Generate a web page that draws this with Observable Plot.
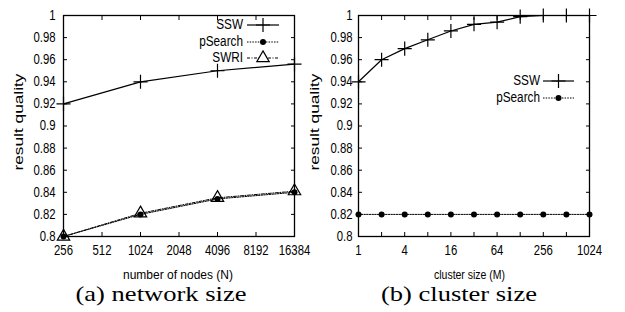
<!DOCTYPE html>
<html>
<head>
<meta charset="utf-8">
<script src="https://cdn.jsdelivr.net/npm/d3@7"></script>
<script src="https://cdn.jsdelivr.net/npm/@observablehq/plot@0.6"></script>
<style>
  html, body { margin: 0; padding: 0; background: #fff; }
  #wrap { position: relative; width: 625px; height: 312px; overflow: hidden; background: #fff; }
  #wrap > * { position: absolute; top: 0; }
</style>
</head>
<body>
<div id="wrap"></div>
<script>
// ---- data: panel (a) network size ----
const nodes = [256, 1024, 4096, 16384];
const sswA = [0.92, 0.94, 0.95, 0.956];
const psearchA = [0.80, 0.82, 0.834, 0.84];
const swriA = [0.80, 0.821, 0.835, 0.841];
const xTicksA = [256, 512, 1024, 2048, 4096, 8192, 16384];

// ---- data: panel (b) cluster size ----
const cluster = [1, 2, 4, 8, 16, 32, 64, 128, 256, 512, 1024];
const sswB = [0.94, 0.96, 0.97, 0.978, 0.986, 0.992, 0.994, 0.999, 1.0, 1.0, 1.0];
const psearchB = [0.82, 0.82, 0.82, 0.82, 0.82, 0.82, 0.82, 0.82, 0.82, 0.82, 0.82];
const xTicksB = [1, 2, 4, 8, 16, 32, 64, 128, 256, 512, 1024];
const xLabelsB = [1, 4, 16, 64, 256, 1024];

const yTicks = [0.8, 0.82, 0.84, 0.86, 0.88, 0.9, 0.92, 0.94, 0.96, 0.98, 1];

const yLabel = "result quality";
const xLabelA = "number of nodes (N)";
const xLabelB = "cluster size (M)";
const captionA = "(a) network size";
const captionB = "(b) cluster size";

const FONT = '"Liberation Sans", Arial, sans-serif';
const SERIF = '"Liberation Serif", "Times New Roman", serif';

const fmtY = d => String(+d.toFixed(2));

function table(xs, ys) { return xs.map((x, i) => ({x, y: ys[i]})); }

function frameMarks(xTicks, xLabels, padY) {
  return [
    Plot.axisX(xTicks, {anchor: "bottom", tickSize: -4, tickFormat: () => "", label: null, strokeWidth: 1}),
    Plot.axisX(xTicks, {anchor: "top", tickSize: -4, tickFormat: () => "", label: null, strokeWidth: 1}),
    Plot.axisX(xLabels, {anchor: "bottom", tickSize: 0, tickPadding: 9, tickFormat: d => String(d), label: null, fontSize: 14}),
    Plot.axisY(yTicks, {anchor: "left", tickSize: -4, tickFormat: () => "", label: null}),
    Plot.axisY(yTicks, {anchor: "right", tickSize: -4, tickFormat: () => "", label: null}),
    Plot.axisY(yTicks, {anchor: "left", tickSize: 0, tickPadding: padY, tickFormat: fmtY, label: null, fontSize: 14}),
    Plot.frame({stroke: "black", strokeWidth: 1.3})
  ];
}

// condense text horizontally (reference uses a narrow sans face)
function condense(root, factor) {
  root.querySelectorAll("text").forEach(t => {
    const len = t.getComputedTextLength();
    if (len > 0) {
      t.setAttribute("textLength", (len * factor).toFixed(2));
      t.setAttribute("lengthAdjust", "spacingAndGlyphs");
    }
  });
}

const wrap = document.getElementById("wrap");

const plotA = Plot.plot({
  width: 322, height: 285,
  marginLeft: 63, marginRight: 28, marginTop: 15, marginBottom: 49,
  x: {type: "log", base: 2, domain: [256, 16384]},
  y: {domain: [0.8, 1]},
  style: {fontFamily: FONT, fontSize: "14px", color: "black", background: "transparent", overflow: "visible"},
  marks: [
    ...frameMarks(xTicksA, xTicksA, 8),
    Plot.line(table(nodes, swriA), {x: "x", y: "y", stroke: "black", strokeWidth: 1, strokeDasharray: "3,1.5,1,1.5"}),
    Plot.line(table(nodes, psearchA), {x: "x", y: "y", stroke: "black", strokeWidth: 1, strokeDasharray: "1.5,1.2"}),
    Plot.line(table(nodes, sswA), {x: "x", y: "y", stroke: "black", strokeWidth: 1.2}),
    Plot.dot(table(nodes, swriA), {x: "x", y: "y", symbol: "triangle", r: 4.6, stroke: "black", strokeWidth: 1.2, fill: "none"}),
    Plot.dot(table(nodes, psearchA), {x: "x", y: "y", symbol: "circle", r: 3, fill: "black", stroke: "none"}),
    Plot.dot(table(nodes, sswA), {x: "x", y: "y", symbol: "plus", r: 4.6, stroke: "black", strokeWidth: 1.2})
  ]
});
plotA.style.left = "0px";
wrap.appendChild(plotA);

const plotB = Plot.plot({
  width: 315, height: 285,
  marginLeft: 48, marginRight: 36, marginTop: 15, marginBottom: 49,
  x: {type: "log", base: 2, domain: [1, 1024]},
  y: {domain: [0.8, 1]},
  style: {fontFamily: FONT, fontSize: "14px", color: "black", background: "transparent", overflow: "visible"},
  marks: [
    ...frameMarks(xTicksB, xLabelsB, 6),
    Plot.line(table(cluster, psearchB), {x: "x", y: "y", stroke: "black", strokeWidth: 1, strokeDasharray: "1.5,1.2"}),
    Plot.line(table(cluster, sswB), {x: "x", y: "y", stroke: "black", strokeWidth: 1.2}),
    Plot.dot(table(cluster, psearchB), {x: "x", y: "y", symbol: "circle", r: 3, fill: "black", stroke: "none"}),
    Plot.dot(table(cluster, sswB), {x: "x", y: "y", symbol: "plus", r: 4.6, stroke: "black", strokeWidth: 1.2})
  ]
});
plotB.style.left = "310px";
wrap.appendChild(plotB);

condense(plotA, 0.81);
condense(plotB, 0.81);

// ---- overlay: axis titles, legends, captions ----
const svg = d3.select(wrap).append("svg")
  .attr("width", 625).attr("height", 312)
  .style("left", "0px").style("pointer-events", "none");

function ytitle(x) {
  svg.append("text").attr("transform", `translate(${x},122) rotate(-90)`)
    .attr("text-anchor", "middle").attr("dominant-baseline", "middle")
    .attr("textLength", 97).attr("lengthAdjust", "spacingAndGlyphs")
    .style("font-family", FONT).style("font-size", "12px").text(yLabel);
}
ytitle(20); ytitle(316);

function xtitle(x, t, w) {
  svg.append("text").attr("x", x).attr("y", 279)
    .attr("text-anchor", "middle")
    .attr("textLength", w).attr("lengthAdjust", "spacingAndGlyphs")
    .style("font-family", FONT).style("font-size", "12px").text(t);
}
xtitle(178, xLabelA, 110); xtitle(469.5, xLabelB, 71);

function caption(x, t, w) {
  svg.append("text").attr("x", x).attr("y", 301)
    .attr("text-anchor", "middle")
    .attr("textLength", w).attr("lengthAdjust", "spacingAndGlyphs")
    .style("font-family", SERIF).style("font-size", "21px").text(t);
}
caption(161, captionA, 171);
caption(459, captionB, 156);

const sym = {
  plus: d3.symbol(d3.symbolPlus, Math.PI * 4.6 * 4.6)(),
  circle: d3.symbol(d3.symbolCircle, Math.PI * 3 * 3)(),
  triangle: d3.symbol(d3.symbolTriangle, Math.PI * 4.6 * 4.6)()
};

const legendTexts = [];
function legendRow(xText, x1, x2, y, label, dash, symbol) {
  legendTexts.push(svg.append("text").attr("x", xText).attr("y", y)
    .attr("text-anchor", "end").attr("dominant-baseline", "middle")
    .style("font-family", FONT).style("font-size", "14px").text(label).node());
  svg.append("line").attr("x1", x1).attr("x2", x2).attr("y1", y).attr("y2", y)
    .attr("stroke", "black").attr("stroke-width", dash ? 1 : 1.2)
    .attr("stroke-dasharray", dash || null);
  const m = svg.append("path").attr("d", sym[symbol])
    .attr("transform", `translate(${(x1 + x2) / 2},${y})`);
  if (symbol === "circle") m.attr("fill", "black");
  else m.attr("fill", symbol === "triangle" ? "white" : "none").attr("stroke", "black").attr("stroke-width", 1.2);
}
legendRow(243, 247, 279, 25, "SSW", null, "plus");
legendRow(243, 247, 279, 42, "pSearch", "1.5,1.2", "circle");
legendRow(243, 247, 279, 58, "SWRI", "3,1.5,1,1.5", "triangle");

legendRow(540, 543, 574, 81, "SSW", null, "plus");
legendRow(540, 543, 574, 98, "pSearch", "1.5,1.2", "circle");

legendTexts.forEach(t => {
  const len = t.getComputedTextLength();
  t.setAttribute("textLength", (len * 0.84).toFixed(2));
  t.setAttribute("lengthAdjust", "spacingAndGlyphs");
});
</script>
</body>
</html>
